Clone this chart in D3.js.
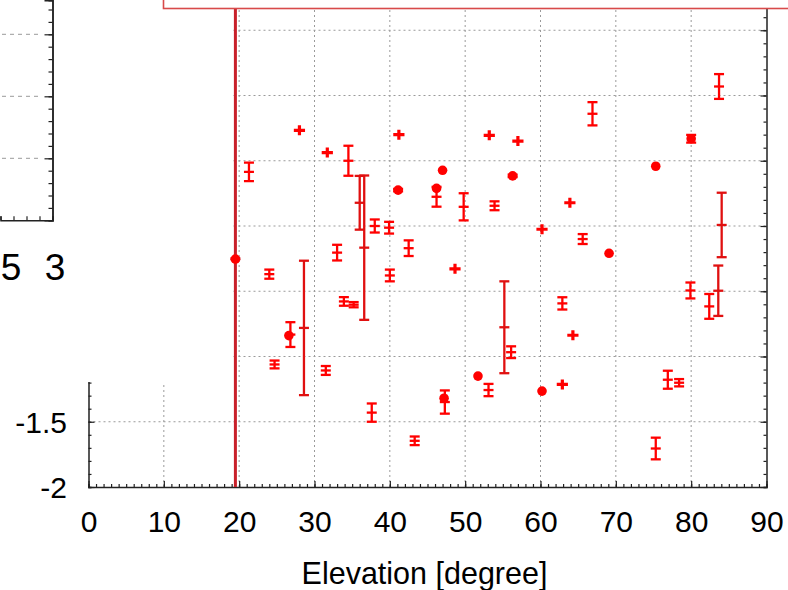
<!DOCTYPE html>
<html><head><meta charset="utf-8">
<script src="https://cdn.jsdelivr.net/npm/d3@7/dist/d3.min.js"></script>
<style>
body{margin:0;background:#fff}
svg{display:block}
text{font-family:"Liberation Sans",Arial,sans-serif;fill:#000}
</style>
</head><body>
<svg id="chart" width="788" height="590"></svg>
<script>
// ---- data ----
const xTickValues = [0,10,20,30,40,50,60,70,80,90];
const yTickValues = [-2,-1.5,-1,-0.5,0,0.5,1,1.5];
const yTickLabelValues = [-2,-1.5];   // the other labels are hidden in the reference
const xTitle = "Elevation [degree]";

// error-bar points: elevation, value, half error
const barX   = [19.5, 21.3, 34.5, 36.0, 36.6, 28.6, 33.0, 38.0, 39.9, 42.5, 24.0, 40.0, 33.9, 35.2, 26.8, 24.7, 31.5, 37.6,
                46.2, 49.8, 53.9, 65.6, 66.9, 83.7, 84.05, 83.6, 79.9, 82.4, 76.9, 78.4, 75.3, 55.2, 56.1, 62.9, 53.1, 47.3, 43.3];
const barY   = [-0.25, 0.415, 0.50, 0.178, -0.166, -0.781, -0.204, 0.0, -0.013, -0.17, -0.369, -0.379, -0.578, -0.603, -0.832, -1.061, -1.107, -1.43,
                0.224, 0.147, 0.155, -0.10, 0.86, 1.069, 0.008, -0.496, -0.494, -0.616, -1.178, -1.201, -1.705, -0.776, -0.967, -0.593, -1.257, -1.349, -1.646];
const barErr = [2.2, 0.071, 0.115, 0.206, 0.553, 0.515, 0.06, 0.05, 0.045, 0.06, 0.035, 0.045, 0.033, 0.02, 0.095, 0.03, 0.034, 0.07,
                0.076, 0.104, 0.034, 0.038, 0.089, 0.095, 0.247, 0.193, 0.061, 0.095, 0.069, 0.028, 0.083, 0.352, 0.045, 0.047, 0.047, 0.089, 0.033];

// filled-dot points
const dotX = [19.5, 41.1, 47.0, 56.3, 46.2, 75.3, 69.1, 80.0, 26.6, 51.7, 60.2, 47.2];
const dotY = [-0.254, 0.275, 0.427, 0.384, 0.288, 0.458, -0.209, 0.669, -0.84, -1.15, -1.265, -1.32];
const dotErr = [0, 0.01, 0, 0.01, 0, 0, 0, 0.03, 0, 0, 0, 0];

// plus-shaped points
const plusX = [28.0, 31.7, 41.2, 53.2, 57.0, 63.9, 60.2, 48.65, 64.3, 62.9];
const plusY = [0.733, 0.563, 0.70, 0.695, 0.651, 0.178, -0.025, -0.328, -0.837, -1.214];

// fragment of the neighbouring panel (only "5" of "2.5" and "3" are visible)
const leftXTicks = [2.5, 3];
const leftXTickLabels = ["5", "3"];

// ---- drawing ----
const svg = d3.select("#chart");
const x = d3.scaleLinear().domain([0, 90]).range([88.5, 766.5]);
const y = d3.scaleLinear().domain([-2, 2]).range([487, -35]);
const red = "#f00";
const fmt = d => String(d);

svg.append("defs").append("clipPath").attr("id","plotclip")
  .append("rect").attr("x", x(0)).attr("y", -40).attr("width", x(90)-x(0)).attr("height", y(-2)+40);

// grid
const grid = svg.append("g").attr("stroke","#9a9a9a").attr("stroke-width",1).attr("stroke-dasharray","2,3");
grid.selectAll("line.v").data(xTickValues.filter(d=>d>0&&d<90)).join("line")
  .attr("x1",d=>x(d)).attr("x2",d=>x(d)).attr("y1",y(-2)).attr("y2",0);
grid.selectAll("line.h").data(yTickValues.filter(d=>d>-2)).join("line")
  .attr("x1",x(0)).attr("x2",x(90)).attr("y1",d=>y(d)).attr("y2",d=>y(d));

// axes
function styleAxis(g){ g.select(".domain").attr("stroke","#222").attr("stroke-width",1.5);
  g.selectAll(".tick line").attr("stroke","#222").attr("stroke-width",1.2);
  g.selectAll("text").style("font-size","30px").attr("fill","#000"); }

const minorX = d3.range(0, 91, 1);
const minorY = d3.range(-2, 1.8, 0.1);

svg.append("g").attr("transform",`translate(0,${y(-2)})`)
  .call(d3.axisBottom(x).tickValues(minorX).tickSize(-3).tickFormat("")).call(styleAxis);
svg.append("g").attr("transform",`translate(0,${y(-2)})`)
  .call(d3.axisBottom(x).tickValues(xTickValues).tickSize(-6).tickPadding(23.5).tickFormat(fmt))
  .call(styleAxis).call(g=>g.select(".domain").remove());

svg.append("g").attr("transform",`translate(${x(0)},0)`)
  .call(d3.axisLeft(y).tickValues(minorY).tickSize(-3).tickFormat("")).call(styleAxis);
svg.append("g").attr("transform",`translate(${x(0)},0)`)
  .call(d3.axisLeft(y).tickValues(yTickValues).tickSize(-6).tickFormat(""))
  .call(styleAxis).call(g=>g.select(".domain").remove());
svg.append("g").attr("transform",`translate(${x(0)},0)`)
  .call(d3.axisLeft(y).tickValues(yTickLabelValues).tickSize(0).tickPadding(21.5).tickFormat(fmt))
  .call(styleAxis).call(g=>g.select(".domain").remove())
  .call(g=>g.selectAll("text").attr("dy","0.36em"));

svg.append("g").attr("transform",`translate(${x(90)},0)`)
  .call(d3.axisRight(y).tickValues(minorY).tickSize(-3).tickFormat("")).call(styleAxis);
svg.append("g").attr("transform",`translate(${x(90)},0)`)
  .call(d3.axisRight(y).tickValues(yTickValues).tickSize(-6).tickFormat(""))
  .call(styleAxis).call(g=>g.select(".domain").remove());

svg.append("text").attr("x", (x(0)+x(90))/2 - 3).attr("y", 584)
  .attr("text-anchor","middle").style("font-size","30.5px").text(xTitle);

// white cover with the neighbouring panel fragment
svg.append("rect").attr("x",0).attr("y",0).attr("width",231).attr("height",382).attr("fill","#fff");

const lx = d3.scaleLinear().domain([2.5, 3]).range([0.5, 52.5]);
const ly = d3.scaleLinear().domain([0, 3.55]).range([220.3, 0.2]);
const lp = svg.append("g");
lp.append("g").attr("stroke","#9a9a9a").attr("stroke-width",1).attr("stroke-dasharray","4,4")
  .selectAll("line").data([1,2,3]).join("line")
  .attr("x1",2).attr("x2",42).attr("y1",d=>ly(d)).attr("y2",d=>ly(d));
lp.append("g").attr("transform",`translate(${lx(3)},0)`)
  .call(d3.axisRight(ly).tickValues(d3.range(0,3.6,0.2)).tickSize(-4).tickFormat("")).call(styleAxis);
lp.append("g").attr("transform",`translate(${lx(3)},0)`)
  .call(d3.axisRight(ly).tickValues([1,2,3]).tickSize(-8).tickFormat("")).call(styleAxis);
lp.append("g").attr("transform",`translate(0,${ly(0)})`)
  .call(d3.axisBottom(lx).tickValues(d3.range(2.5,3.01,0.125)).tickSize(-4).tickFormat("")).call(styleAxis);
lp.selectAll("text.lt").data(leftXTicks).join("text").attr("class","lt")
  .attr("x",(d,i)=> i===0 ? lx(d)+10.5 : lx(d)+2.5).attr("y",280).attr("text-anchor","middle")
  .style("font-size","37px")
  .text((d,i)=>leftXTickLabels[i]);

// marks
const marks = svg.append("g").attr("clip-path","url(#plotclip)");
const capW = 5;
const bars = barX.map((d,i)=>({x:d, y:barY[i], e:barErr[i]}));
const bg = marks.selectAll("g.bar").data(bars).join("g").attr("class","bar")
  .attr("stroke", d=> d.e>1 ? "#c8202a" : (d.e>0.15 ? "#e01010" : red))
  .attr("stroke-width", d=> d.e>1 ? 3 : 2.3).attr("fill","none");
bg.append("line").attr("x1",d=>x(d.x)).attr("x2",d=>x(d.x)).attr("y1",d=>y(d.y-d.e)).attr("y2",d=>y(d.y+d.e));
bg.append("line").attr("x1",d=>x(d.x)-capW).attr("x2",d=>x(d.x)+capW).attr("y1",d=>y(d.y-d.e)).attr("y2",d=>y(d.y-d.e));
bg.append("line").attr("x1",d=>x(d.x)-capW).attr("x2",d=>x(d.x)+capW).attr("y1",d=>y(d.y+d.e)).attr("y2",d=>y(d.y+d.e));
bg.append("line").attr("x1",d=>x(d.x)-capW).attr("x2",d=>x(d.x)+capW).attr("y1",d=>y(d.y)).attr("y2",d=>y(d.y));

const dots = dotX.map((d,i)=>({x:d, y:dotY[i], e:dotErr[i]}));
const dg = marks.selectAll("g.dot").data(dots).join("g").attr("class","dot");
dg.filter(d=>d.e>0).append("path").attr("stroke",red).attr("stroke-width",2.3).attr("fill","none")
  .attr("d",d=>`M${x(d.x)-capW},${y(d.y-d.e)}H${x(d.x)+capW}M${x(d.x)-capW},${y(d.y+d.e)}H${x(d.x)+capW}M${x(d.x)},${y(d.y-d.e)}V${y(d.y+d.e)}`);
dg.append("circle").attr("cx",d=>x(d.x)).attr("cy",d=>y(d.y)).attr("r",4.8).attr("fill",red);

const pluses = plusX.map((d,i)=>({x:d, y:plusY[i]}));
marks.selectAll("path.plus").data(pluses).join("path").attr("class","plus")
  .attr("stroke",red).attr("stroke-width",3.2).attr("fill","none")
  .attr("d",d=>`M${x(d.x)-5.6},${y(d.y)}H${x(d.x)+5.6}M${x(d.x)},${y(d.y)-5}V${y(d.y)+5}`);

// legend box edge at the top
svg.append("rect").attr("x",163.5).attr("y",-20).attr("width",640).attr("height",28.5)
  .attr("fill","#fff").attr("stroke","#d84a4a").attr("stroke-width",1.6);
</script>
</body></html>
